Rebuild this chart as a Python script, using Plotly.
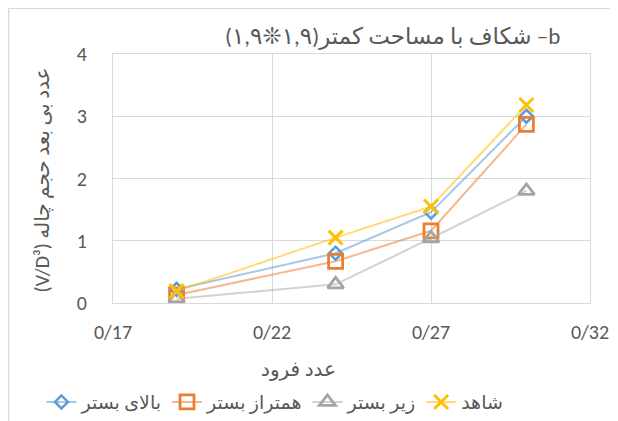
import plotly.graph_objects as go

x_vals = [0.19, 0.24, 0.27, 0.30]
above_bed = [0.22, 0.80, 1.46, 3.00]      # بالای بستر
level_bed = [0.13, 0.67, 1.16, 2.87]      # همتراز بستر
below_bed = [0.07, 0.30, 1.04, 1.80]      # زیر بستر
control = [0.19, 1.05, 1.55, 3.18]        # شاهد

series_names = ["بالای بستر", "همتراز بستر", "زیر بستر", "شاهد"]
x_tick_vals = [0.17, 0.22, 0.27, 0.32]
x_tick_text = ["0/17", "0/22", "0/27", "0/32"]
y_tick_vals = [0, 1, 2, 3, 4]

title_text = "\u202Bb– شکاف با مساحت کمتر(۱,۹❊۱,۹)\u202C"
x_title = "عدد فرود"
y_title = "\u202Bعدد بی بعد حجم چاله (V/D³)\u202C"

FONT = "Calibri, Carlito, 'Liberation Sans', 'DejaVu Sans', sans-serif"
GREY_TXT = "#595959"
GRID = "#D9D9D9"

styles = [
    dict(line="rgba(91,155,213,0.55)", marker="#5B9BD5", symbol="diamond-open", size=10, lw=2.5),
    dict(line="rgba(237,125,49,0.55)", marker="#ED7D31", symbol="square-open", size=14, lw=2.8),
    dict(line="rgba(165,165,165,0.5)", marker="#A5A5A5", symbol="triangle-up-open", size=14, lw=2.8),
    dict(line="rgba(255,192,0,0.55)", marker="#FFC000", symbol="x-thin-open", size=14, lw=3),
]
data = [above_bed, level_bed, below_bed, control]

fig = go.Figure()
for name, ys, st in zip(series_names, data, styles):
    fig.add_trace(go.Scatter(
        x=x_vals, y=ys, name=name, mode="lines+markers",
        line=dict(color=st["line"], width=2),
        marker=dict(symbol=st["symbol"], size=st["size"], color=st["marker"],
                    line=dict(color=st["marker"], width=st["lw"])),
    ))

# page body has an 8px margin, so the figure is 8px smaller and offset
fig.update_layout(
    width=610, height=413,
    margin=dict(l=105, r=28, t=46, b=118, autoexpand=False),
    paper_bgcolor="white", plot_bgcolor="white",
    font=dict(family=FONT, color=GREY_TXT, size=15),
    showlegend=True,
    legend=dict(orientation="h", x=-0.15, xanchor="left", y=-0.398, yanchor="middle",
                font=dict(size=19, color=GREY_TXT), itemwidth=30, tracegroupgap=0,
                bgcolor="rgba(0,0,0,0)"),
    xaxis=dict(range=[0.17, 0.32], tickvals=x_tick_vals, ticktext=x_tick_text,
               showgrid=True, gridcolor=GRID, gridwidth=1.3, zeroline=False,
               showline=True, linecolor=GRID, linewidth=1.3, mirror=True,
               ticks="", automargin=False, ticklabelstandoff=11,
               tickfont=dict(size=20, color=GREY_TXT)),
    yaxis=dict(range=[0, 4], tickvals=y_tick_vals, showgrid=True, gridcolor=GRID,
               gridwidth=1.3, zeroline=False, showline=True, linecolor=GRID,
               linewidth=1.3, mirror=True, ticks="", automargin=False,
               tickfont=dict(size=20, color=GREY_TXT), ticklabelstandoff=21),
    annotations=[
        dict(text=title_text, xref="paper", yref="paper", x=0.585, y=1.072,
             xanchor="center", yanchor="middle", showarrow=False,
             font=dict(size=23, color=GREY_TXT, family=FONT)),
        dict(text=x_title, xref="paper", yref="paper", x=0.388, y=-0.265,
             xanchor="center", yanchor="middle", showarrow=False,
             font=dict(size=20, color=GREY_TXT, family=FONT)),
        dict(text=y_title, xref="paper", yref="paper", x=-0.147, y=0.496,
             xanchor="center", yanchor="middle", showarrow=False, textangle=-90,
             font=dict(size=20, color=GREY_TXT, family=FONT)),
    ],
    shapes=[
        dict(type="line", xref="paper", yref="paper", x0=-0.2187, x1=1.06, y0=1.183, y1=1.183,
             line=dict(color=GRID, width=1.3)),
        dict(type="line", xref="paper", yref="paper", x0=-0.2187, x1=-0.2187, y0=1.183, y1=-0.48,
             line=dict(color=GRID, width=1.3)),
    ],
)

fig.write_html("out.html")
